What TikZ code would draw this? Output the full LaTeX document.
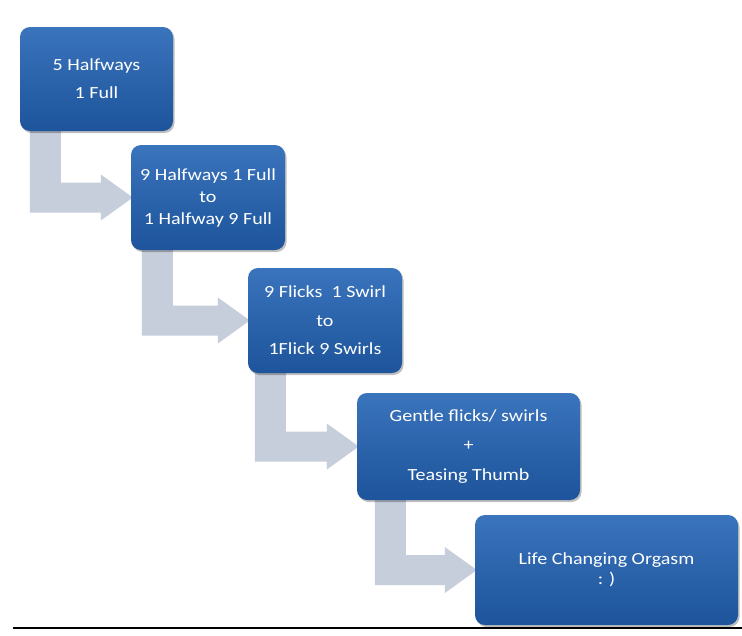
\documentclass[tikz,border=0pt]{standalone}
\usepackage{fontspec}
\setmainfont[FakeStretch=1.18]{Carlito}
\usetikzlibrary{calc,shadows,backgrounds}
\definecolor{boxtop}{HTML}{3A74BC}
\definecolor{boxbot}{HTML}{1D549B}
\definecolor{arrowfill}{HTML}{C6CDDB}
\tikzset{
  stepbox/.style={rounded corners=10pt, top color=boxtop, bottom color=boxbot,
    draw=none, text=white, align=center, inner sep=0pt,
    drop shadow={shadow xshift=1.5pt, shadow yshift=-2pt, opacity=0.25, fill=black}},
  bentfill/.style={fill=arrowfill, draw=none},
  baseline/.style={draw=black, line width=2.5pt}
}
% #1 offset of stem from box's left, #2 source, #3 target
\newcommand\bentarrow[3]{%
  \path[bentfill] let \p1=(#2.south west), \p2=(#3.west) in
   (\x1+#1,\y1+4pt) -- (\x1+#1+31pt,\y1+4pt) -- (\x1+#1+31pt,\y2+15pt)
   -- (\x2-30pt,\y2+15pt) -- (\x2-30pt,\y2+23pt) -- (\x2+2pt,\y2)
   -- (\x2-30pt,\y2-23pt) -- (\x2-30pt,\y2-15pt) -- (\x1+#1,\y2-15pt) -- cycle;}
\begin{document}
\begin{tikzpicture}[x=1pt,y=-1pt]
\useasboundingbox (0,0) rectangle (742,635);
\path
 node[stepbox, minimum width=153pt, minimum height=104pt,
      font=\fontsize{17}{28}\selectfont] (b1) at (96.5,79)
   {5 Halfways\\ 1 Full}
 node[stepbox, minimum width=154pt, minimum height=105pt,
      font=\fontsize{17}{22}\selectfont] (b2) at (208,197.5)
   {9 Halfways 1 Full\\ to\\ 1 Halfway 9 Full}
 node[stepbox, minimum width=154pt, minimum height=105pt,
      font=\fontsize{17}{28.5}\selectfont] (b3) at (325,320.5)
   {9 Flicks\ \ 1 Swirl\\ to\\ 1Flick 9 Swirls}
 node[stepbox, minimum width=223pt, minimum height=107pt,
      font=\fontsize{17}{29.5}\selectfont] (b4) at (468.5,446.5)
   {Gentle flicks/ swirls\\ +\\ Teasing Thumb}
 node[stepbox, minimum width=263pt, minimum height=110pt,
      font=\fontsize{17}{20}\selectfont] (b5) at (606.5,570)
   {Life Changing Orgasm\\ : )};
\begin{scope}[on background layer]
  \fill[white] (0,0) rectangle (742,635);
  \bentarrow{10pt}{b1}{b2}
  \bentarrow{11pt}{b2}{b3}
  \bentarrow{7pt}{b3}{b4}
  \bentarrow{18pt}{b4}{b5}
\end{scope}
\coordinate (lineL) at (13,628);
\coordinate (lineR) at (742,628);
\draw[baseline] (lineL) -- (lineR);
\end{tikzpicture}
\end{document}
